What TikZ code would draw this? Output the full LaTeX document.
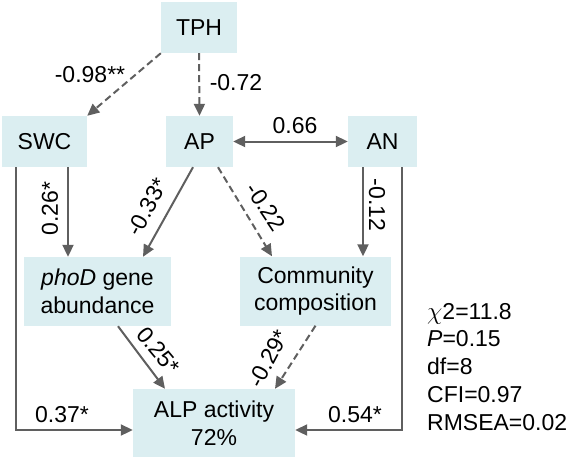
\documentclass[tikz,border=0pt]{standalone}
\usepackage{fontspec}
\setmainfont{Liberation Sans}
\usetikzlibrary{arrows.meta,calc}
\definecolor{boxfill}{RGB}{219,238,241}
\definecolor{linegray}{RGB}{95,95,95}
\begin{document}
\begin{tikzpicture}[x=1pt,y=-1pt,
  box/.style={fill=boxfill, draw=none, inner sep=0pt, align=center, font=\fontsize{23}{27.5}\selectfont},
  lbl/.style={font=\fontsize{23}{27.5}\selectfont, inner sep=0pt},
  arr/.style={draw=linegray, line width=2pt, -{Triangle[length=12pt,width=11pt]}},
  dsh/.style={arr, dash pattern=on 7pt off 4pt}]
\useasboundingbox (0,0) rectangle (570,459);
% boxes
\node[box, minimum width=76pt, minimum height=51pt] (TPH) at (199,27.5) {TPH};
\node[box, minimum width=85pt, minimum height=51pt] (SWC) at (44.5,141.5) {SWC};
\node[box, minimum width=67pt, minimum height=51pt] (AP) at (199.5,141.5) {AP};
\node[box, minimum width=69pt, minimum height=51pt] (AN) at (382.5,141.5) {AN};
\node[box, minimum width=147pt, minimum height=69pt] (phoD) at (97.5,291.5) {\textit{phoD} gene\\abundance};
\node[box, minimum width=151pt, minimum height=69pt] (Comm) at (315.5,291) {Community\\composition};
\node[box, minimum width=162pt, minimum height=68pt] (ALP) at (214,423) {ALP activity\\72\%};
% connectors
\draw[dsh] (TPH.south west) -- (SWC.north east);
\draw[dsh] (TPH.south) -- (AP.north);
\draw[draw=linegray, line width=2pt, {Triangle[length=12pt,width=11pt]}-{Triangle[length=12pt,width=11pt]}] (AP.east) -- (AN.west);
\draw[arr] ([xshift=-28.5pt]SWC.south) |- ([yshift=-7pt]ALP.west);
\draw[arr] ([xshift=23.5pt]SWC.south) -- ([xshift=23.5pt]SWC.south |- phoD.north);
\draw[arr] ([xshift=-6.5pt]AP.south) -- ([xshift=45.5pt]phoD.north);
\draw[dsh] ([xshift=18.5pt]AP.south) -- ([xshift=-43.5pt]Comm.north);
\draw[arr] ([xshift=-19.5pt]AN.south) -- ([xshift=-19.5pt]AN.south |- Comm.north);
\draw[arr] ([xshift=19.5pt]AN.south) |- ([yshift=-7pt]ALP.east);
\draw[arr] ([xshift=20.5pt]phoD.south) -- ([xshift=-49pt]ALP.north);
\draw[dsh] (Comm.south) -- ([xshift=61pt]ALP.north);
% labels
\node[lbl] (l1) at (90,75) {-0.98**};
\node[lbl] (l2) at (236,83) {-0.72};
\node[lbl] (l3) at (295,126) {0.66};
\node[lbl, rotate=90] (l4) at (50,208.5) {0.26*};
\node[lbl, rotate=62] (l5) at (147,207) {-0.33*};
\node[lbl, rotate=-56] (l6) at (266,207) {-0.22};
\node[lbl, rotate=-90] (l7) at (377,205) {-0.12};
\node[lbl, rotate=-50] (l8) at (158.5,350.5) {0.25*};
\node[lbl, rotate=62] (l9) at (268.5,358.5) {-0.29*};
\node[lbl] (l10) at (62,415) {0.37*};
\node[lbl] (l11) at (355,415) {0.54*};
% fit statistics
\node[lbl, anchor=base west] (s1) at (427,319) {$\chi$2=11.8};
\node[lbl, anchor=base west] (s2) at (427,346) {\textit{P}=0.15};
\node[lbl, anchor=base west] (s3) at (427,374) {df=8};
\node[lbl, anchor=base west] (s4) at (427,402) {CFI=0.97};
\node[lbl, anchor=base west] (s5) at (427,430) {RMSEA=0.02};
\end{tikzpicture}
\end{document}
